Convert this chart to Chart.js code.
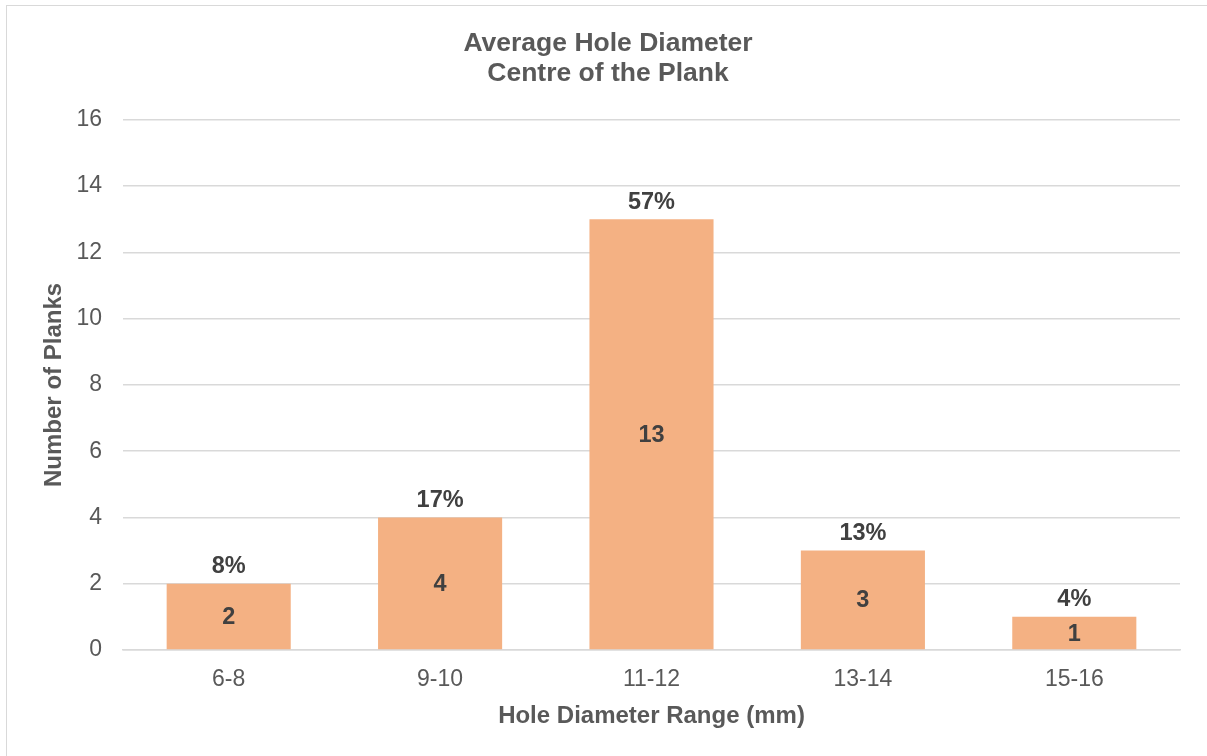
<!DOCTYPE html>
<html>
<head>
<meta charset="utf-8">
<title>Average Hole Diameter - Centre of the Plank</title>
<script src="https://cdn.jsdelivr.net/npm/chart.js@4/dist/chart.umd.min.js"></script>
<style>
  html, body { margin: 0; padding: 0; background: #ffffff; overflow: hidden; }
  #frame {
    position: absolute; left: 6px; top: 5px;
    width: 1400px; height: 900px;
    border: 1.5px solid #d9d9d9; box-sizing: border-box;
  }
  #wrap { position: absolute; left: 0; top: 0; width: 1207px; height: 756px; }
</style>
</head>
<body>
<div id="frame"></div>
<div id="wrap"><canvas id="chart" width="1207" height="756"></canvas></div>
<script>
// Hole diameter ranges (mm) and number of planks in each
const ranges = ['6-8', '9-10', '11-12', '13-14', '15-16'];
const plankCounts = [2, 4, 13, 3, 1];
const shareLabels = ['8%', '17%', '57%', '13%', '4%'];
const yTicks = [0, 2, 4, 6, 8, 10, 12, 14, 16];

const FONT = "'Liberation Sans', Arial, sans-serif";

// Count inside each bar, share of planks above it
const barLabels = {
  id: 'barLabels',
  afterDatasetsDraw(chart) {
    const ctx = chart.ctx;
    const meta = chart.getDatasetMeta(0);
    ctx.save();
    ctx.font = 'bold 23.5px ' + FONT;
    ctx.fillStyle = '#404040';
    ctx.textAlign = 'center';
    ctx.textBaseline = 'middle';
    meta.data.forEach((bar, i) => {
      const { x, y, base } = bar.getProps(['x', 'y', 'base'], true);
      ctx.fillText(String(plankCounts[i]), x, (y + base) / 2 + 1);
      ctx.fillText(shareLabels[i], x, y - 17);
    });
    ctx.restore();
  }
};

new Chart(document.getElementById('chart'), {
  type: 'bar',
  data: {
    labels: ranges,
    datasets: [{
      data: plankCounts,
      backgroundColor: '#F4B183',
      borderWidth: 0,
      barPercentage: 0.587,
      categoryPercentage: 1.0
    }]
  },
  options: {
    responsive: false,
    animation: false,
    devicePixelRatio: 1,
    layout: { padding: { left: 36, right: 27, top: 0, bottom: 0 } },
    plugins: {
      legend: { display: false },
      tooltip: { enabled: false },
      title: {
        display: true,
        text: ['Average Hole Diameter', 'Centre of the Plank'],
        color: '#595959',
        font: { family: FONT, size: 26.5, weight: 'bold', lineHeight: 1.13 },
        padding: { top: 29, bottom: 31 }
      }
    },
    scales: {
      x: {
        grid: { display: false, drawTicks: false },
        border: { display: true, color: '#d9d9d9', width: 1.5 },
        ticks: {
          color: '#595959',
          font: { family: FONT, size: 23 },
          padding: 16
        },
        title: {
          display: true,
          text: 'Hole Diameter Range (mm)',
          color: '#595959',
          font: { family: FONT, size: 24, weight: 'bold' },
          padding: { top: 0, bottom: 25 }
        },
        afterFit(scale) { scale.height = 106; }
      },
      y: {
        min: 0,
        max: 16,
        afterBuildTicks(scale) { scale.ticks = yTicks.map(v => ({ value: v })); },
        grid: { color: '#d9d9d9', lineWidth: 1.5, drawTicks: false },
        border: { display: false },
        ticks: {
          color: '#595959',
          font: { family: FONT, size: 23 },
          padding: 21
        },
        title: {
          display: true,
          text: 'Number of Planks',
          color: '#595959',
          font: { family: FONT, size: 24, weight: 'bold' },
          padding: { top: 4, bottom: 0 }
        },
        afterFit(scale) { scale.width = 87; }
      }
    }
  },
  plugins: [barLabels]
});
</script>
</body>
</html>
